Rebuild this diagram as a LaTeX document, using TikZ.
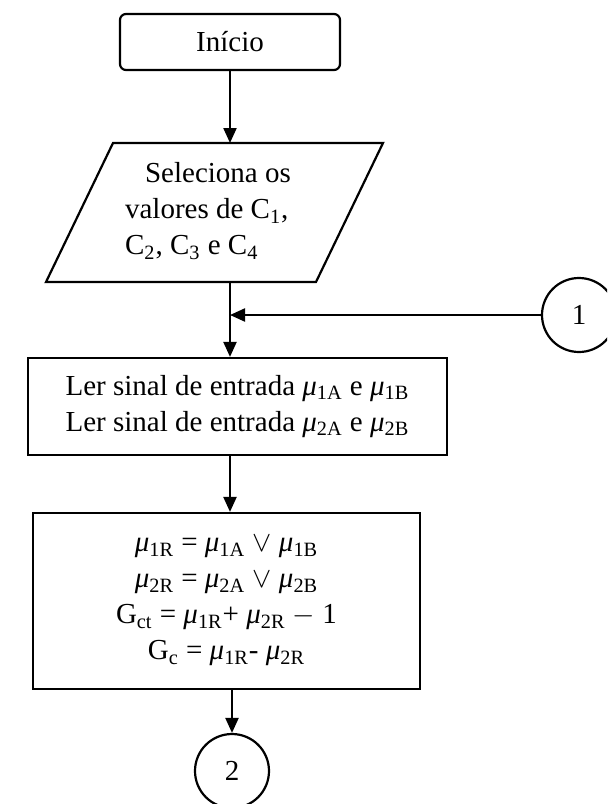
\documentclass[tikz,border=0pt]{standalone}
\usepackage{fontspec}
\setmainfont{Liberation Serif}
\usepackage{tikz}
\usetikzlibrary{arrows.meta, positioning, calc}
\newcommand{\mub}[1]{\textit{μ}\textsubscript{#1}}

\begin{document}
\begin{tikzpicture}[x=0.5pt, y=-0.5pt, >={Triangle[length=7.5pt, width=6.5pt]}, line width=1.1pt,
    font=\fontsize{14.5}{18}\selectfont,
    startbox/.style={draw, rounded corners=3pt, minimum width=110pt, minimum height=28pt},
    procbox/.style={draw, align=center, inner sep=0pt},
    connector/.style={draw, circle, inner sep=0pt, minimum size=37pt}]
        \useasboundingbox (0,0) rectangle (607,804);
        \clip (0,0) rectangle (607,804);
        % Start
        \node[startbox] (inicio) at (230,42) {Início};
        % Input parallelogram
        \coordinate (selTop) at (230,143);
        \coordinate (selBot) at (230,282);
        \draw (113,143) -- (383,143) -- (316,282) -- (46,282) -- cycle;
        \node[align=left, inner sep=0pt] (sel) at (208,211) {\hspace*{10pt}Seleciona os\\valores de C\textsubscript{1},\\C\textsubscript{2}, C\textsubscript{3} e C\textsubscript{4}};
        % Return point
        \coordinate (join) at (230,315);
        \node[connector] (c1) at (579,315) {1};
        % Read inputs
        \node[procbox, minimum width=209.5pt, minimum height=48.5pt] (ler) at (237.5,406.5)
            {Ler sinal de entrada \mub{1A} e \mub{1B}\\Ler sinal de entrada \mub{2A} e \mub{2B}};
        % Computation
        \node[procbox, minimum width=193.5pt, minimum height=88pt] (calc) at (226.5,601)
            {\mub{1R} = \mub{1A} $\vee$ \mub{1B}\\
             \mub{2R} = \mub{2A} $\vee$ \mub{2B}\\
             G\textsubscript{ct} = \mub{1R}+ \mub{2R} $-$ 1\\
             G\textsubscript{c} = \mub{1R}- \mub{2R}};
        \node[connector] (c2) at (232,771) {2};
        % Flow arrows
        \draw[->] (inicio) -- (selTop);
        \draw (selBot) -- (join);
        \draw[->] (join) -- (join |- ler.north);
        \draw[->] (c1) -- (join);
        \draw[->] (join |- ler.south) -- (join |- calc.north);
        \draw[->] (c2 |- calc.south) -- (c2);
    \end{tikzpicture}
\end{document}
